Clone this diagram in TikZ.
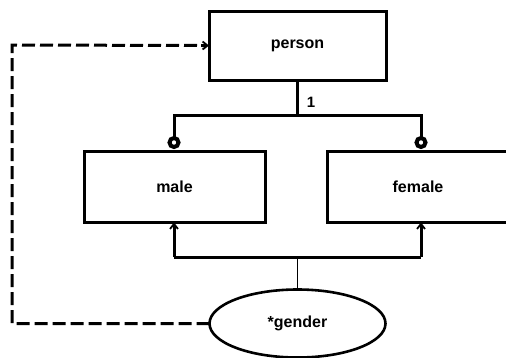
\documentclass[tikz,border=0pt]{standalone}
\usepackage{fontspec}
\setmainfont{Liberation Sans}
\usetikzlibrary{arrows.meta,shapes.geometric}
\begin{document}
\begin{tikzpicture}[x=1pt,y=-1pt,
  entity/.style={draw,line width=3pt,inner sep=0pt,outer sep=0pt,font=\fontsize{16}{18}\selectfont\bfseries},
  attr/.style={draw,ellipse,line width=2.6pt,inner sep=0pt,outer sep=0pt,font=\fontsize{16}{18}\selectfont\bfseries},
  thickline/.style={line width=3pt},
  thinline/.style={line width=1.6pt},
  dashline/.style={line width=3pt,dash pattern=on 13pt off 5pt},
  ring/.style={circle,draw,line width=4pt,fill=white,minimum size=9pt,inner sep=0pt,outer sep=0pt},
  tip/.style={-{Straight Barb[length=5pt,width=8pt,line width=1.8pt]}}
]
\useasboundingbox (0,0) rectangle (506,357);
\node[entity,minimum width=177pt,minimum height=69pt] (person) at (297.5,45.5) {person};
\node[entity,minimum width=181pt,minimum height=71pt] (male) at (174.5,187) {male};
\node[entity,minimum width=182pt,minimum height=71pt] (female) at (418,187) {female};
\node[attr,minimum width=176pt,minimum height=68pt] (gender) at (297.5,323.5) {*gender};
\node[ring] (c1) at (174,142.5) {};
\node[ring] (c2) at (421,142.5) {};
\coordinate (j1) at (297.5,115);
\coordinate (bl) at (174,115);
\coordinate (br) at (421,115);
\coordinate (j2) at (297.5,257);
\coordinate (al) at (174,257);
\coordinate (ar) at (421,257);
\coordinate (d1) at (12,323.5);
\coordinate (d2) at (12,45);
\node[font=\fontsize{15}{17}\selectfont\bfseries] (one) at (311,102) {1};
\draw[thickline] (person.south) -- (j1);
\draw[thickline] (c1.north) -- (bl) -- (br) -- (c2.north);
\draw[thickline,tip] (al) -- (al |- male.south);
\draw[thickline,tip] (ar) -- (ar |- female.south);
\draw[thickline] (al) -- (ar);
\draw[thinline] (gender.north) -- (j2);
\draw[dashline] (gender.west) -- (d1) -- (d2) -- ([xshift=-6pt]person.west);
\draw[line width=2.2pt,-{Straight Barb[length=5pt,width=8pt,line width=1.8pt]}] ([xshift=-8pt]person.west) -- (person.west);
\end{tikzpicture}
\end{document}
